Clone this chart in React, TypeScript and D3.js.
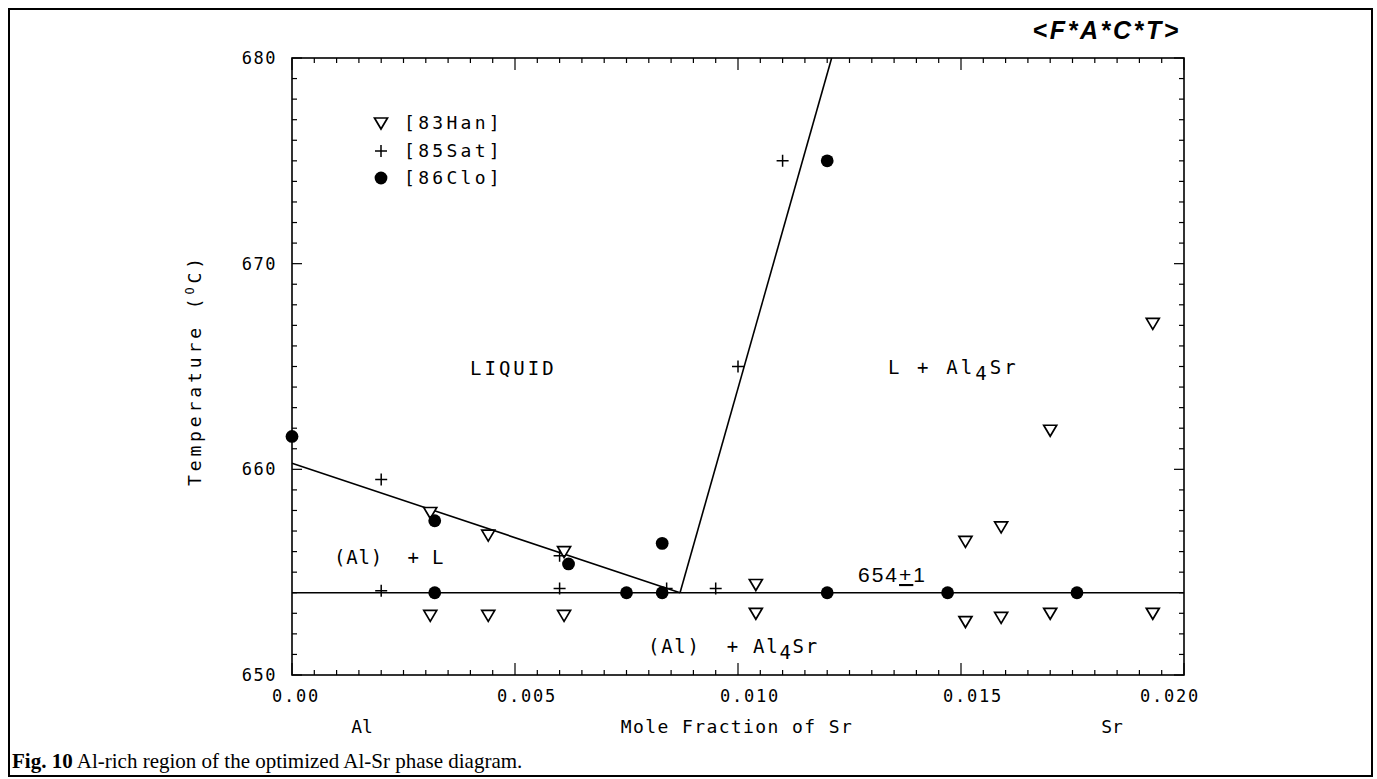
import React from "react";
import * as d3 from "d3";

// ---- data ----
const xMajorTicks = [0, 0.005, 0.01, 0.015, 0.02];
const xTickLabels = ["0.00", "0.005", "0.010", "0.015", "0.020"];
const yMajorTicks = [650, 660, 670, 680];
const yTickLabels = ["650", "660", "670", "680"];

// [mole fraction Sr, temperature °C]
const han83: [number, number][] = [
  [0.0031, 657.9], [0.0044, 656.8], [0.0061, 656.0],
  [0.0031, 652.9], [0.0044, 652.9], [0.0061, 652.9],
  [0.0104, 654.4], [0.0104, 653.0],
  [0.0151, 656.5], [0.0151, 652.6],
  [0.0159, 657.2], [0.0159, 652.8],
  [0.0170, 661.9], [0.0170, 653.0],
  [0.0193, 653.0], [0.0193, 667.1],
];
const sat85: [number, number][] = [
  [0.0020, 659.5], [0.0020, 654.1], [0.0060, 655.8], [0.0060, 654.2],
  [0.0084, 654.2], [0.0095, 654.2], [0.0100, 665.0], [0.0110, 675.0],
];
const clo86: [number, number][] = [
  [0.0, 661.6], [0.0032, 657.5], [0.0032, 654.0], [0.0062, 655.4],
  [0.0075, 654.0], [0.0083, 654.0], [0.0083, 656.4], [0.0120, 654.0],
  [0.0120, 675.0], [0.0147, 654.0], [0.0176, 654.0],
];
const liquidusAl: [number, number][] = [[0, 660.3], [0.0087, 654.0]];
const liquidusAl4Sr: [number, number][] = [[0.0087, 654.0], [0.0121, 680]];
const eutectic: [number, number][] = [[0, 654.0], [0.02, 654.0]];
const legendLabels = ["[83Han]", "[85Sat]", "[86Clo]"];

const W = 1377;
const H = 779;
const MONO = "'DejaVu Sans Mono', monospace";
const SANS = "'Liberation Sans', Arial, sans-serif";

export default function App() {
  const x = d3.scaleLinear().domain([0, 0.02]).range([292, 1184]);
  const y = d3.scaleLinear().domain([650, 680]).range([675, 58]);
  const line = d3.line<[number, number]>().x((d) => x(d[0])).y((d) => y(d[1]));

  const xMinor = d3.range(0, 41).map((i) => i * 0.0005);
  const yMinor = d3.range(650, 681, 1);
  const isMajorX = (v: number) => Math.abs(v / 0.005 - Math.round(v / 0.005)) < 1e-6;
  const isMajorY = (v: number) => v % 10 === 0;

  const [x0, x1] = x.range();
  const [y0, y1] = y.range();

  const tri = (cx: number, cy: number) =>
    `M${cx - 6.5},${cy - 5} L${cx + 6.5},${cy - 5} L${cx},${cy + 6} Z`;
  const plus = (cx: number, cy: number) =>
    `M${cx - 6},${cy} L${cx + 6},${cy} M${cx},${cy - 6} L${cx},${cy + 6}`;

  const legendX = 381;
  const legendY = [123, 151, 178];

  return (
    <svg
      width={W}
      height={H}
      style={{ position: "fixed", left: 0, top: 0, background: "#fff" }}
    >
      <rect x={0} y={0} width={W} height={H} fill="#fff" />
      {/* outer frame */}
      <rect x={9} y={9} width={1363} height={767} fill="none" stroke="#000" strokeWidth={2} />

      {/* FACT logo */}
      <text
        x={1181}
        y={39}
        textAnchor="end"
        fontFamily={SANS}
        fontStyle="italic"
        fontWeight="bold"
        fontSize={25}
        letterSpacing={2.6}
      >
        {"<F*A*C*T>"}
      </text>

      {/* plot frame */}
      <rect x={x0} y={y1} width={x1 - x0} height={y0 - y1} fill="none" stroke="#000" strokeWidth={1.6} />

      {/* x ticks bottom & top */}
      {xMinor.map((v, i) => {
        const len = isMajorX(v) ? 12 : 5;
        return (
          <g key={"xt" + i} stroke="#000" strokeWidth={1.2}>
            <line x1={x(v)} x2={x(v)} y1={y0} y2={y0 - len} />
            <line x1={x(v)} x2={x(v)} y1={y1} y2={y1 + len} />
          </g>
        );
      })}
      {/* y ticks left & right */}
      {yMinor.map((v, i) => {
        const len = isMajorY(v) ? 10 : 5;
        return (
          <g key={"yt" + i} stroke="#000" strokeWidth={1.2}>
            <line x1={x0} x2={x0 + len} y1={y(v)} y2={y(v)} />
            <line x1={x1} x2={x1 - len} y1={y(v)} y2={y(v)} />
          </g>
        );
      })}

      {/* tick labels */}
      {xMajorTicks.map((v, i) => (
        <text
          key={"xl" + i}
          x={x(v) + (i === 0 ? 4 : i === xMajorTicks.length - 1 ? -14 : 12)}
          y={702}
          textAnchor="middle"
          fontFamily={MONO}
          fontSize={17}
          letterSpacing={1.8}
        >
          {xTickLabels[i]}
        </text>
      ))}
      {yMajorTicks.map((v, i) => (
        <text
          key={"yl" + i}
          x={277}
          y={y(v) + 6}
          textAnchor="end"
          fontFamily={MONO}
          fontSize={17}
          letterSpacing={1.5}
        >
          {yTickLabels[i]}
        </text>
      ))}

      {/* axis titles */}
      <text x={362} y={733} textAnchor="middle" fontFamily={MONO} fontSize={18}>Al</text>
      <text x={737} y={733} textAnchor="middle" fontFamily={MONO} fontSize={18} letterSpacing={1.4}>
        Mole Fraction of Sr
      </text>
      <text x={1112} y={733} textAnchor="middle" fontFamily={MONO} fontSize={18}>Sr</text>
      <text
        transform="translate(201,370) rotate(-90)"
        textAnchor="middle"
        fontFamily={MONO}
        fontSize={18}
        letterSpacing={3.9}
      >
        {"Temperature ("}
        <tspan fontSize={12} dy={-7}>O</tspan>
        <tspan dy={7}>{"C)"}</tspan>
      </text>

      {/* phase boundaries */}
      <path d={line(eutectic) || ""} fill="none" stroke="#000" strokeWidth={1.5} />
      <path d={line(liquidusAl) || ""} fill="none" stroke="#000" strokeWidth={1.6} />
      <path d={line(liquidusAl4Sr) || ""} fill="none" stroke="#000" strokeWidth={1.6} />

      {/* data */}
      {han83.map((d, i) => (
        <path key={"h" + i} d={tri(x(d[0]), y(d[1]))} fill="#fff" stroke="#000" strokeWidth={1.7} />
      ))}
      {sat85.map((d, i) => (
        <path key={"s" + i} d={plus(x(d[0]), y(d[1]))} fill="none" stroke="#000" strokeWidth={1.5} />
      ))}
      {clo86.map((d, i) => (
        <circle key={"c" + i} cx={x(d[0])} cy={y(d[1])} r={6.4} fill="#000" />
      ))}

      {/* legend */}
      <path d={tri(legendX, legendY[0])} fill="#fff" stroke="#000" strokeWidth={1.7} />
      <path d={plus(legendX, legendY[1])} fill="none" stroke="#000" strokeWidth={1.5} />
      <circle cx={legendX} cy={legendY[2]} r={6.4} fill="#000" />
      {legendLabels.map((t, i) => (
        <text key={"lg" + i} x={404} y={legendY[i] + 6} fontFamily={MONO} fontSize={18} letterSpacing={3.3}>
          {t}
        </text>
      ))}

      {/* region labels */}
      <text x={470} y={375} fontFamily={MONO} fontSize={19} letterSpacing={3}>LIQUID</text>
      <text x={888} y={374} fontFamily={MONO} fontSize={19} letterSpacing={3.1} xmlSpace="preserve">
        {"L + Al"}
        <tspan dy={6}>4</tspan>
        <tspan dy={-6}>Sr</tspan>
      </text>
      <text x={334} y={564} fontFamily={MONO} fontSize={19} letterSpacing={0.8} xmlSpace="preserve">
        {"(Al)  + L"}
      </text>
      <text x={648} y={653} fontFamily={MONO} fontSize={19} letterSpacing={1.7} xmlSpace="preserve">
        {"(Al)  + Al"}
        <tspan dy={6}>4</tspan>
        <tspan dy={-6}>Sr</tspan>
      </text>
      <text x={858} y={582} fontFamily={SANS} fontSize={21} letterSpacing={2}>
        654
        <tspan textDecoration="underline">+</tspan>
        1
      </text>

      {/* caption */}
      <text x={12} y={768} fontFamily="'Liberation Serif', 'Times New Roman', serif" fontSize={21}>
        <tspan fontWeight="bold">Fig. 10</tspan>
        {"  Al-rich region of the optimized Al-Sr phase diagram."}
      </text>
    </svg>
  );
}
